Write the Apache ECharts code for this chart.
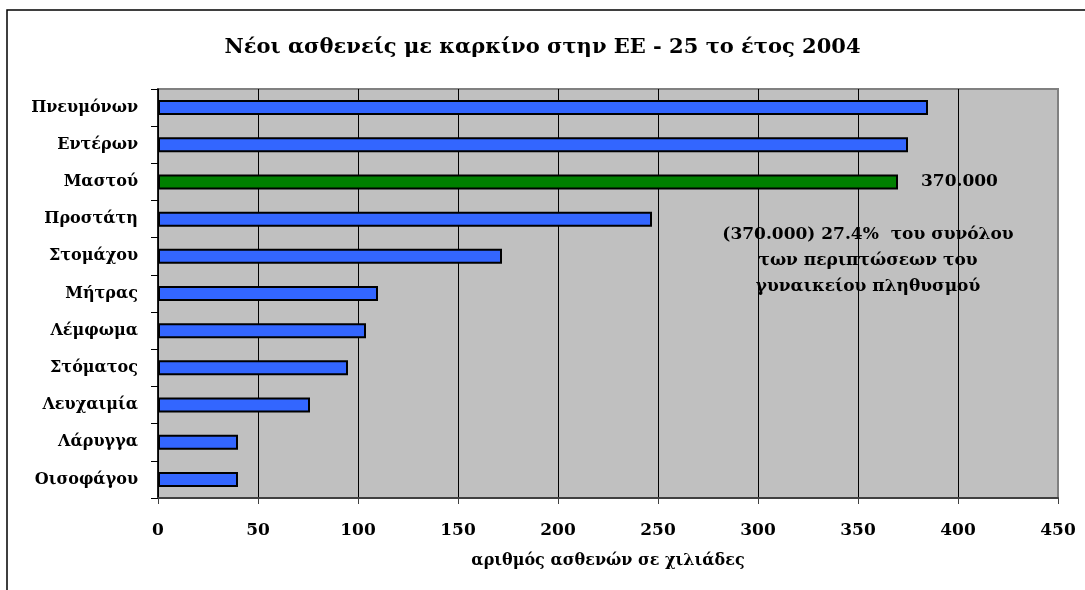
<!DOCTYPE html>
<html>
<head>
<meta charset="utf-8">
<script src="https://cdn.jsdelivr.net/npm/echarts@6/dist/echarts.min.js"></script>
<style>
html,body{margin:0;padding:0;background:#fff;}
#chart{width:1085px;height:590px;}
</style>
</head>
<body>
<div id="chart"></div>
<script>
const titleText = 'Νέοι ασθενείς με καρκίνο στην ΕΕ - 25 το έτος 2004';
const categories = ['Πνευμόνων','Εντέρων','Μαστού','Προστάτη','Στομάχου','Μήτρας','Λέμφωμα','Στόματος','Λευχαιμία','Λάρυγγα','Οισοφάγου'];
const values = [385, 375, 370, 247, 172, 110, 104, 95, 76, 40, 40];
const highlightCategory = 'Μαστού';
const highlightLabel = '370.000';
const noteLines = ['(370.000) 27.4%  του συνόλου', 'των περιπτώσεων του', 'γυναικείου πληθυσμού'];
const noteAnchor = [355, 'Στομάχου'];
const xTicks = [0, 50, 100, 150, 200, 250, 300, 350, 400, 450];
const xAxisName = 'αριθμός ασθενών σε χιλιάδες';

const FONT = '"DejaVu Serif", "Liberation Serif", serif';
const chart = echarts.init(document.getElementById('chart'), null, {renderer: 'canvas'});

const splitColors = xTicks.map((t, i) => i === xTicks.length - 1 ? '#808080' : '#000000');

const option = {
  animation: false,
  backgroundColor: '#ffffff',
  title: {
    text: titleText,
    left: 'center',
    top: 32,
    textStyle: {fontFamily: FONT, fontWeight: 'bold', fontSize: 21, color: '#000'}
  },
  grid: {
    left: 158, right: 27, top: 89, height: 409,
    show: true, backgroundColor: '#C0C0C0', borderColor: '#808080', borderWidth: 2
  },
  xAxis: {
    type: 'value',
    min: 0, max: 450, interval: 50,
    name: xAxisName,
    nameLocation: 'middle',
    nameGap: 55,
    nameTextStyle: {fontFamily: FONT, fontWeight: 'bold', fontSize: 16, color: '#000'},
    axisLine: {show: true, lineStyle: {color: '#404040', width: 2}},
    axisTick: {show: true, length: 6, lineStyle: {color: '#404040', width: 1}},
    axisLabel: {margin: 24, fontFamily: FONT, fontWeight: 'bold', fontSize: 17, color: '#000'},
    splitLine: {show: true, lineStyle: {color: splitColors, width: 1}}
  },
  yAxis: {
    type: 'category',
    data: categories,
    inverse: true,
    axisLine: {show: true, lineStyle: {color: '#000', width: 1.5}},
    axisTick: {show: true, length: 7, lineStyle: {color: '#000', width: 1}},
    axisLabel: {margin: 20, fontFamily: FONT, fontWeight: 'bold', fontSize: 16, color: '#000'},
    splitLine: {show: false}
  },
  series: [{
    type: 'bar',
    barWidth: 15,
    data: values.map((v, i) => {
      const isHi = categories[i] === highlightCategory;
      return {
        value: v,
        itemStyle: {color: isHi ? '#008000' : '#3366FF', borderColor: '#000', borderWidth: 2},
        label: isHi ? {
          show: true, position: 'right', distance: 23,
          formatter: highlightLabel,
          fontFamily: FONT, fontWeight: 'bold', fontSize: 17, color: '#000'
        } : {show: false}
      };
    })
  }]
};
chart.setOption(option);

const p = chart.convertToPixel({xAxisIndex: 0, yAxisIndex: 0}, noteAnchor);
chart.setOption({
  graphic: [
    {
      type: 'rect', silent: true, z: 100,
      shape: {x: 7, y: 10, width: 1200, height: 700},
      style: {fill: 'none', stroke: '#000', lineWidth: 1.5}
    },
    {
      type: 'text', silent: true, z: 100,
      x: p[0], y: p[1] + 4,
      style: {
        text: noteLines.join('\n'),
        align: 'center', verticalAlign: 'middle',
        lineHeight: 26,
        font: 'bold 17px ' + FONT,
        fill: '#000'
      }
    }
  ]
});
</script>
</body>
</html>
